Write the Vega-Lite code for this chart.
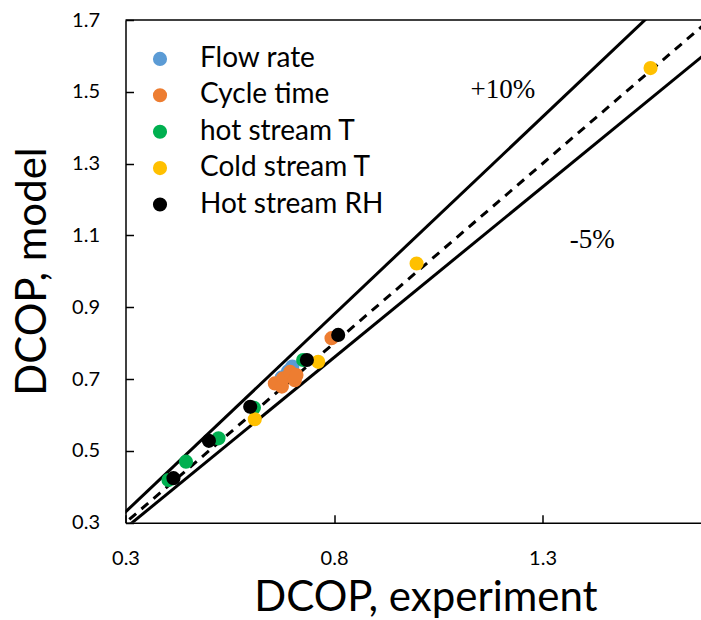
{
  "$schema": "https://vega.github.io/schema/vega-lite/v6.json",
  "autosize": "none",
  "width": 575.5,
  "height": 502.7,
  "padding": {"left": 125.5, "top": 20, "right": 0, "bottom": 97.3},
  "background": "white",
  "config": {"view": {"stroke": null}},
  "datasets": {
    "frame": [{"x": 0.3, "y": 1.7}, {"x": 1.68, "y": 1.7}],
    "lines": [
      {"name": "+10%", "x": 0.27, "y": 0.297},
      {"name": "+10%", "x": 1.7, "y": 1.87},
      {"name": "-5%", "x": 0.3, "y": 0.285},
      {"name": "-5%", "x": 1.8, "y": 1.71}
    ],
    "diag": [{"x": 0.28, "y": 0.28}, {"x": 1.75, "y": 1.75}],
    "pts": [
      {"series": "Flow rate", "x": 0.675, "y": 0.705},
      {"series": "Flow rate", "x": 0.69, "y": 0.722},
      {"series": "Flow rate", "x": 0.70, "y": 0.735},
      {"series": "Cycle time", "x": 0.658, "y": 0.688},
      {"series": "Cycle time", "x": 0.675, "y": 0.679},
      {"series": "Cycle time", "x": 0.678, "y": 0.702},
      {"series": "Cycle time", "x": 0.695, "y": 0.72},
      {"series": "Cycle time", "x": 0.706, "y": 0.697},
      {"series": "Cycle time", "x": 0.71, "y": 0.711},
      {"series": "Cycle time", "x": 0.794, "y": 0.814},
      {"series": "hot stream T", "x": 0.403, "y": 0.419},
      {"series": "hot stream T", "x": 0.445, "y": 0.47},
      {"series": "hot stream T", "x": 0.523, "y": 0.535},
      {"series": "hot stream T", "x": 0.608, "y": 0.62},
      {"series": "hot stream T", "x": 0.726, "y": 0.753},
      {"series": "Cold stream T", "x": 0.61, "y": 0.588},
      {"series": "Cold stream T", "x": 0.762, "y": 0.748},
      {"series": "Cold stream T", "x": 0.998, "y": 1.022},
      {"series": "Cold stream T", "x": 1.559, "y": 1.566},
      {"series": "Hot stream RH", "x": 0.415, "y": 0.424},
      {"series": "Hot stream RH", "x": 0.50, "y": 0.528},
      {"series": "Hot stream RH", "x": 0.599, "y": 0.623},
      {"series": "Hot stream RH", "x": 0.735, "y": 0.753},
      {"series": "Hot stream RH", "x": 0.81, "y": 0.823}
    ],
    "ann": [
      {"label": "+10%", "x": 1.205, "y": 1.483},
      {"label": "-5%", "x": 1.419, "y": 1.065}
    ]
  },
  "encoding": {
    "x": {
      "field": "x", "type": "quantitative",
      "scale": {"domain": [0.3, 1.68], "nice": false, "zero": false},
      "axis": {
        "values": [0.3, 0.8, 1.3], "format": ".1f", "grid": false,
        "domainColor": "black", "domainWidth": 1.5,
        "tickColor": "black", "tickWidth": 1.5, "tickSize": -8,
        "labelFont": "Lato", "labelFontSize": 20, "labelColor": "black",
        "labelPadding": 34, "labelFlush": false,
        "title": "DCOP, experiment", "titleFont": "Lato", "titleFontSize": 42,
        "titleFontWeight": "normal", "titleColor": "black",
        "titleBaseline": "alphabetic", "titleY": 88, "titleX": 300, "titleAlign": "center"
      }
    },
    "y": {
      "field": "y", "type": "quantitative",
      "scale": {"domain": [0.3, 1.7], "nice": false, "zero": false},
      "axis": {
        "values": [0.3, 0.5, 0.7, 0.9, 1.1, 1.3, 1.5, 1.7], "format": ".1f", "grid": false,
        "domainColor": "black", "domainWidth": 1.5,
        "tickColor": "black", "tickWidth": 1.5, "tickSize": -8,
        "labelFont": "Lato", "labelFontSize": 20, "labelColor": "black",
        "labelPadding": 34, "labelFlush": false, "labelBaseline": "middle",
        "title": "DCOP, model", "titleFont": "Lato", "titleFontSize": 42,
        "titleFontWeight": "normal", "titleColor": "black", "titleAngle": 270,
        "titleBaseline": "alphabetic", "titleX": -80.5, "titleY": 251, "titleAlign": "center"
      }
    }
  },
  "layer": [
    {
      "data": {"name": "frame"},
      "mark": {"type": "line", "color": "black", "strokeWidth": 1.5}
    },
    {
      "data": {"name": "lines"},
      "mark": {"type": "line", "color": "black", "strokeWidth": 3, "clip": true},
      "encoding": {"detail": {"field": "name"}}
    },
    {
      "data": {"name": "diag"},
      "mark": {"type": "line", "color": "black", "strokeWidth": 3, "strokeDash": [9, 7], "clip": true}
    },
    {
      "data": {"name": "pts"},
      "mark": {"type": "circle", "size": 200, "opacity": 1},
      "encoding": {
        "color": {
          "field": "series", "type": "nominal",
          "scale": {
            "domain": ["Flow rate", "Cycle time", "hot stream T", "Cold stream T", "Hot stream RH"],
            "range": ["#5B9BD5", "#ED7D31", "#00B050", "#FFC000", "#000000"]
          },
          "legend": {
            "orient": "none", "legendX": 20.5, "legendY": 24.9, "title": null,
            "padding": 0, "symbolType": "circle", "symbolSize": 200, "symbolStrokeWidth": 0,
            "symbolOpacity": 1,
            "labelFont": "Lato", "labelFontSize": 28, "labelColor": "black",
            "labelOffset": 26, "rowPadding": 8.4, "labelLimit": 400
          }
        }
      }
    },
    {
      "data": {"name": "ann"},
      "mark": {"type": "text", "font": "Liberation Serif", "fontSize": 27, "align": "center", "baseline": "alphabetic", "color": "black"},
      "encoding": {"text": {"field": "label"}}
    }
  ]
}
